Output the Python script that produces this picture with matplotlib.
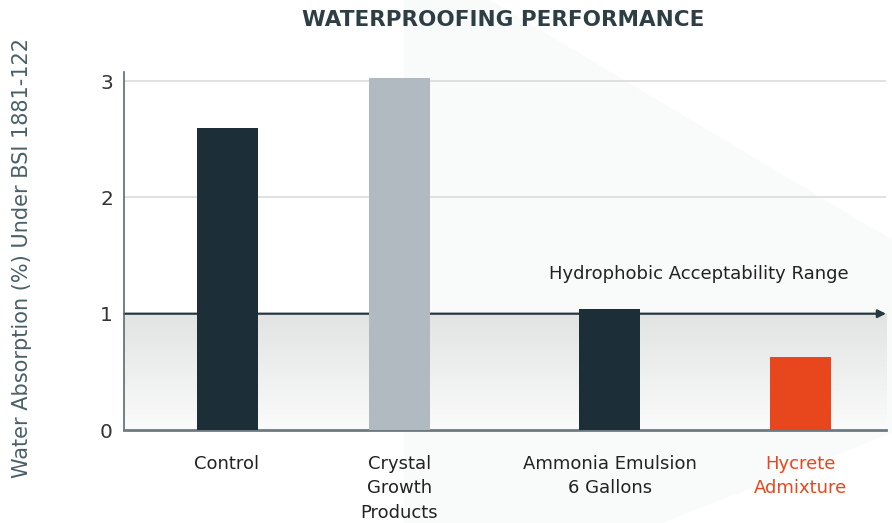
import numpy as np
from matplotlib import pyplot as plt
from matplotlib.patches import Polygon

# dati
categorie = ['Control', 'Crystal\nGrowth\nProducts', 'Ammonia Emulsion\n6 Gallons', 'Hycrete\nAdmixture']
valori = [2.60, 3.03, 1.04, 0.63]
colori = ['#1c2e38', '#b0bac0', '#1c2e38', '#e8471e']
colori_testo = ['#222222', '#222222', '#222222', '#e8471e']
soglia = 1.0
y_ticks = [0, 1, 2, 3]

W, H = 892, 523
fig = plt.figure(figsize=(W/100, H/100), dpi=100)
fig.patch.set_facecolor('white')

# sfondo: forma grigia chiarissima
bg = fig.add_axes([0, 0, 1, 1], zorder=-10)
bg.set_xlim(0, W)
bg.set_ylim(H, 0)
bg.axis('off')
bg.add_patch(Polygon([(404, 0), (490, 0), (892, 240), (892, 433), (662, 523), (404, 523)],
                     closed=True, facecolor='#f9fafa', edgecolor='none'))

# assi principali
x0, x1 = 124, 886
yb, yt = 430, 72
ax = fig.add_axes([x0/W, 1-yb/H, (x1-x0)/W, (yb-yt)/H])
ax.patch.set_alpha(0)
ymax = (yb-yt)/116.3
ax.set_ylim(0, ymax)
ax.set_xlim(0, 12.5)
pos = [1.69, 4.52, 7.97, 11.1]

# fascia sfumata sotto la soglia
top_c = np.array([0.886, 0.890, 0.890])
bot_c = np.array([0.985, 0.985, 0.985])
t = np.linspace(0, 1, 256)[:, None]
grad = (bot_c*(1-t) + top_c*t)[:, None, :]
ax.imshow(grad, extent=[0, 12.5, 0, soglia], aspect='auto', origin='lower', zorder=0,
          interpolation='bicubic')

# griglia
for g in [2, 3]:
    ax.axhline(g, color='#dedede', lw=1.3, zorder=1)

ax.bar(pos, valori, width=1.0, color=colori, zorder=3)

# linea della soglia con freccia
ax.annotate('', xy=(12.5, soglia), xytext=(0, soglia),
            arrowprops=dict(arrowstyle='-|>', color='#263840', lw=1.6, mutation_scale=12,
                            shrinkA=0, shrinkB=0), zorder=2)
ax.text(9.43, soglia + 0.34, 'Hydrophobic Acceptability Range', ha='center', va='center',
        fontsize=13, color='#222222')

for s in ['top', 'right']:
    ax.spines[s].set_visible(False)
ax.spines['left'].set_color('#5b6b72')
ax.spines['left'].set_linewidth(1.2)
ax.spines['bottom'].set_color('#6d7a80')
ax.spines['bottom'].set_linewidth(2)
ax.set_yticks(y_ticks)
ax.set_yticklabels([str(v) for v in y_ticks], fontsize=14.5, color='#333333')
ax.tick_params(axis='y', length=0, pad=8)
ax.set_xticks(pos)
ax.set_xticklabels(categorie, fontsize=13, linespacing=1.45)
for lab, c in zip(ax.get_xticklabels(), colori_testo):
    lab.set_color(c)
ax.tick_params(axis='x', length=0, pad=18)

fig.text(503/W, 1-20/H, 'WATERPROOFING PERFORMANCE', ha='center', va='center',
         fontsize=15.5, fontweight='bold', color='#2d3e45')
fig.text(22/W, 1-258/H, 'Water Absorption (%) Under BSI 1881-122', rotation=90,
         ha='center', va='center', fontsize=15, color='#4a6068')

fig.savefig('out.png', dpi=100)
